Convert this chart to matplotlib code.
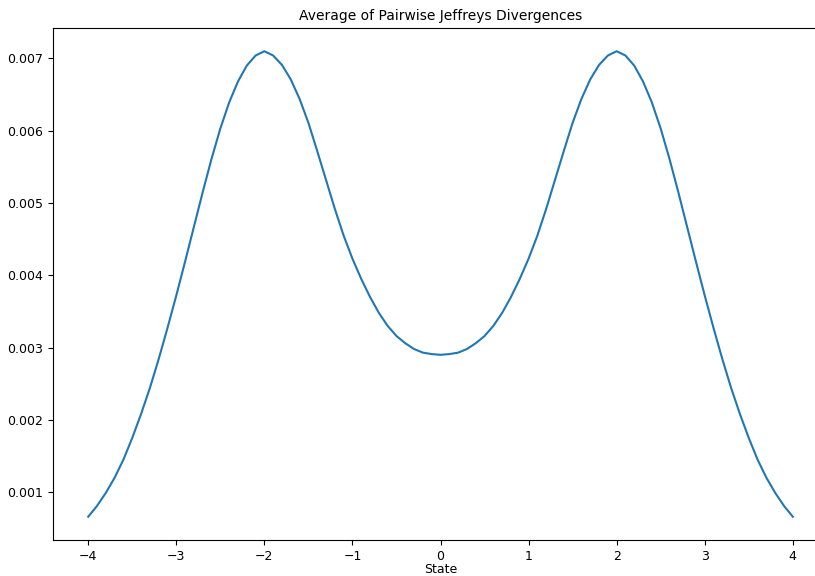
import numpy as np
import matplotlib
matplotlib.use("Agg")
import matplotlib.pyplot as plt

# States sampled on a 0.1 grid from -4 to 4
states = np.round(np.arange(-40, 41) / 10.0, 1)

# Average of pairwise Jeffreys divergences at each state
avg_jeffreys = [
    0.00066, 0.00081, 0.00099, 0.00120, 0.00145, 0.00175, 0.00208, 0.00244,
    0.00284, 0.00327, 0.00372, 0.00419, 0.00467, 0.00515, 0.00561, 0.00603,
    0.00639, 0.00668, 0.00690, 0.00704, 0.00710, 0.00704, 0.00691, 0.00671,
    0.00644, 0.00611, 0.00572, 0.00532, 0.00492, 0.00455, 0.00423, 0.00395,
    0.00370, 0.00348, 0.00330, 0.00316, 0.00306, 0.00298, 0.00293, 0.00291,
    0.00290,
    0.00291, 0.00293, 0.00298, 0.00306, 0.00316, 0.00330, 0.00348, 0.00370,
    0.00395, 0.00423, 0.00455, 0.00492, 0.00532, 0.00572, 0.00611, 0.00644,
    0.00671, 0.00691, 0.00704, 0.00710, 0.00704, 0.00690, 0.00668, 0.00639,
    0.00603, 0.00561, 0.00515, 0.00467, 0.00419, 0.00372, 0.00327, 0.00284,
    0.00244, 0.00208, 0.00175, 0.00145, 0.00120, 0.00099, 0.00081, 0.00066,
]

fig = plt.figure(figsize=(8.15, 5.76), dpi=100)
ax = fig.add_axes([0.065, 0.0625, 0.951, 0.889])
ax.plot(states, avg_jeffreys, color="#1f77b4", linewidth=1.5)
ax.tick_params(labelsize=9)
ax.set_title("Average of Pairwise Jeffreys Divergences", fontsize=10)
ax.set_xlabel("State", fontsize=9, labelpad=0)
fig.savefig("out.png", dpi=100)
